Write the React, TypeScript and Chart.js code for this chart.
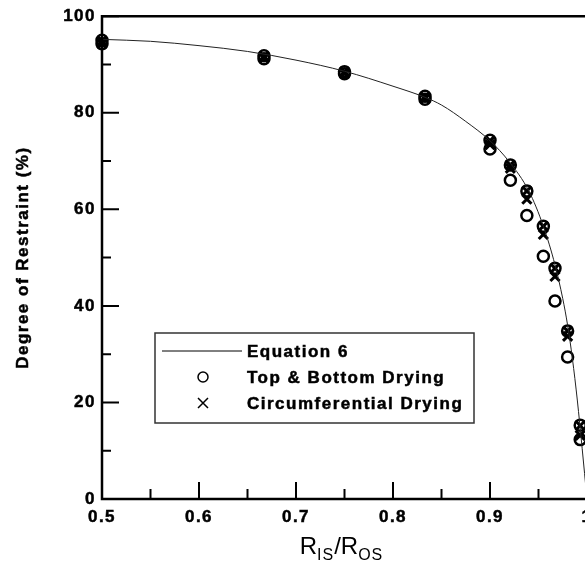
import React, { useEffect, useRef } from 'react';
import { Chart, registerables } from 'chart.js';

Chart.register(...registerables);

// ---- data ----
const curveX = [0.5, 0.55, 0.6, 0.65, 0.7, 0.75, 0.8, 0.833, 0.85, 0.875, 0.9, 0.92, 0.94, 0.955, 0.967, 0.975, 0.98, 0.985, 0.99, 0.995, 1.0];
const curveY = [95.2, 94.8, 93.9, 92.7, 90.9, 88.6, 85.5, 83.2, 81.6, 78.2, 74.2, 69.8, 63.8, 56.5, 48.5, 41.5, 36, 29, 20.5, 10.5, 0];

const topBottomX = [0.5, 0.5, 0.667, 0.667, 0.75, 0.75, 0.833, 0.833, 0.9, 0.9, 0.921, 0.921, 0.938, 0.938, 0.955, 0.955, 0.967, 0.967, 0.98, 0.98, 0.993, 0.993];
const topBottomY = [95, 94.3, 91.8, 91.2, 88.5, 88.1, 83.4, 82.8, 74.3, 72.5, 69.2, 66, 63.8, 58.7, 56.5, 50.3, 47.8, 41, 34.8, 29.4, 15.3, 12.3];

const circX = [0.5, 0.5, 0.667, 0.667, 0.75, 0.75, 0.833, 0.833, 0.9, 0.9, 0.921, 0.921, 0.938, 0.938, 0.955, 0.955, 0.967, 0.967, 0.98, 0.98, 0.993, 0.993];
const circY = [94.9, 94.3, 91.7, 91.3, 88.5, 88.1, 83.3, 82.9, 74.2, 73.4, 69.2, 68.5, 63.8, 62.1, 56.5, 54.8, 47.8, 46.1, 34.8, 33.7, 15.2, 13.2];

const seriesLabels = ['Equation 6', 'Top & Bottom Drying', 'Circumferential Drying'];
const yTitle = 'Degree of Restraint (%)';
const xTitleParts = [['R', 'IS'], ['R', 'OS']];

const FONT = "'Liberation Sans', Arial, Helvetica, sans-serif";

const pts = (xs: number[], ys: number[]) => xs.map((x, i) => ({ x, y: ys[i] }));

const boldText = (ctx: CanvasRenderingContext2D, s: string, x: number, y: number) => {
  ctx.fillText(s, x, y);
  ctx.strokeText(s, x, y);
};

const decorPlugin = {
  id: 'decor',
  beforeDraw(chart: any) {
    chart.ctx.letterSpacing = '1.5px';
  },
  afterDraw(chart: any) {
    const ctx = chart.ctx as CanvasRenderingContext2D;
    const a = chart.chartArea;
    const xs = chart.scales.x;
    const ys = chart.scales.y;
    ctx.save();
    ctx.strokeStyle = '#000';
    ctx.lineWidth = 2.5;
    ctx.beginPath();
    ctx.rect(a.left, a.top, a.right - a.left, a.bottom - a.top);
    ctx.stroke();

    // inward ticks
    ctx.lineWidth = 2;
    const xt = xs.ticks.map((t: any) => t.value);
    ctx.beginPath();
    xt.forEach((v: number, i: number) => {
      const px = xs.getPixelForValue(v);
      ctx.moveTo(px, a.bottom);
      ctx.lineTo(px, a.bottom - 17);
      if (i < xt.length - 1) {
        const mx = xs.getPixelForValue((v + xt[i + 1]) / 2);
        ctx.moveTo(mx, a.bottom);
        ctx.lineTo(mx, a.bottom - 10);
      }
    });
    const yt = ys.ticks.map((t: any) => t.value);
    yt.forEach((v: number, i: number) => {
      const py = ys.getPixelForValue(v);
      ctx.moveTo(a.left, py);
      ctx.lineTo(a.left + 17, py);
      if (i < yt.length - 1) {
        const my = ys.getPixelForValue((v + yt[i + 1]) / 2);
        ctx.moveTo(a.left, my);
        ctx.lineTo(a.left + 9, my);
      }
    });
    ctx.stroke();

    // y title
    ctx.fillStyle = '#000';
    ctx.strokeStyle = '#000';
    ctx.lineWidth = 0.5;
    ctx.font = `bold 17px ${FONT}`;
    (ctx as any).letterSpacing = '1.5px';
    ctx.save();
    ctx.translate(28, (a.top + a.bottom) / 2);
    ctx.rotate(-Math.PI / 2);
    ctx.textAlign = 'center';
    ctx.textBaseline = 'alphabetic';
    boldText(ctx, yTitle, 0, 0);
    ctx.restore();

    // x title with subscripts
    const bigFont = `24px ${FONT}`;
    const subFont = `16px ${FONT}`;
    ctx.textAlign = 'left';
    ctx.textBaseline = 'alphabetic';
    const pieces: { t: string; f: string; dy: number; ls: string }[] = [];
    xTitleParts.forEach((p, i) => {
      pieces.push({ t: p[0], f: bigFont, dy: 0, ls: '0px' });
      pieces.push({ t: p[1], f: subFont, dy: 6, ls: '1px' });
      if (i === 0) pieces.push({ t: '/', f: bigFont, dy: 0, ls: '0px' });
    });
    let total = 0;
    const widths = pieces.map((p) => {
      ctx.font = p.f;
      (ctx as any).letterSpacing = p.ls;
      const w = ctx.measureText(p.t).width;
      total += w;
      return w;
    });
    let cx = (a.left + a.right) / 2 - 3 - total / 2;
    const base = 554;
    pieces.forEach((p, i) => {
      ctx.font = p.f;
      (ctx as any).letterSpacing = p.ls;
      ctx.fillText(p.t, cx, base + p.dy);
      cx += widths[i];
    });

    // legend
    const L = { left: 155, top: 333, right: 474, bottom: 423 };
    ctx.lineWidth = 1.5;
    ctx.strokeStyle = '#333';
    ctx.strokeRect(L.left, L.top, L.right - L.left, L.bottom - L.top);
    const rows = [351, 377, 403];
    ctx.strokeStyle = '#000';
    ctx.lineWidth = 1;
    ctx.beginPath();
    ctx.moveTo(162, rows[0]);
    ctx.lineTo(242, rows[0]);
    ctx.stroke();
    ctx.lineWidth = 1.5;
    ctx.beginPath();
    ctx.arc(203, rows[1], 5, 0, Math.PI * 2);
    ctx.stroke();
    ctx.beginPath();
    ctx.moveTo(198, rows[2] - 5);
    ctx.lineTo(208, rows[2] + 5);
    ctx.moveTo(208, rows[2] - 5);
    ctx.lineTo(198, rows[2] + 5);
    ctx.stroke();
    ctx.font = `bold 17px ${FONT}`;
    (ctx as any).letterSpacing = '1.5px';
    ctx.textBaseline = 'middle';
    ctx.textAlign = 'left';
    ctx.lineWidth = 0.5;
    seriesLabels.forEach((s, i) => boldText(ctx, s, 247, rows[i] + 1));
    ctx.restore();
  },
};

export default function App() {
  const ref = useRef<HTMLCanvasElement>(null);
  useEffect(() => {
    if (!ref.current) return;
    const tickFont = { family: FONT, size: 17, weight: 'bold' };
    const chart = new Chart(ref.current, {
      type: 'scatter',
      data: {
        datasets: [
          {
            type: 'line',
            label: seriesLabels[0],
            data: pts(curveX, curveY),
            borderColor: '#222',
            borderWidth: 1,
            pointRadius: 0,
            cubicInterpolationMode: 'monotone',
            fill: false,
            clip: false,
          } as any,
          {
            label: seriesLabels[1],
            data: pts(topBottomX, topBottomY),
            pointStyle: 'circle',
            pointRadius: 5.5,
            pointBorderWidth: 2.5,
            borderColor: '#000',
            backgroundColor: 'rgba(0,0,0,0)',
            clip: false,
          } as any,
          {
            label: seriesLabels[2],
            data: pts(circX, circY),
            pointStyle: 'crossRot',
            pointRadius: 6.5,
            pointBorderWidth: 3,
            borderColor: '#000',
            backgroundColor: '#000',
            clip: false,
          } as any,
        ],
      },
      options: {
        responsive: false,
        animation: false,
        events: [],
        layout: { padding: { top: 14, right: 13, left: 0, bottom: 0 } },
        plugins: { legend: { display: false }, tooltip: { enabled: false } },
        scales: {
          x: {
            type: 'linear',
            min: 0.5,
            max: 1.0,
            border: { display: false },
            grid: { display: false, drawTicks: false },
            ticks: {
              stepSize: 0.1,
              padding: 8,
              color: '#000',
              textStrokeColor: '#000',
              textStrokeWidth: 0.5,
              font: tickFont,
              maxRotation: 0,
              callback: (v: any) => String(Number(Number(v).toFixed(2))),
            },
            afterFit: (s: any) => { s.height = 66; },
          },
          y: {
            type: 'linear',
            min: 0,
            max: 100,
            border: { display: false },
            grid: { display: false, drawTicks: false },
            ticks: {
              stepSize: 20,
              padding: 6,
              color: '#000',
              textStrokeColor: '#000',
              textStrokeWidth: 0.5,
              font: tickFont,
            },
            afterFit: (s: any) => { s.width = 102; },
          },
        },
      },
      plugins: [decorPlugin],
    } as any);
    return () => chart.destroy();
  }, []);
  return (
    <div style={{ position: 'fixed', left: 0, top: 0, width: 585, height: 565, overflow: 'hidden', background: '#fff' }}>
      <canvas ref={ref} width={600} height={565} style={{ display: 'block' }} />
    </div>
  );
}
